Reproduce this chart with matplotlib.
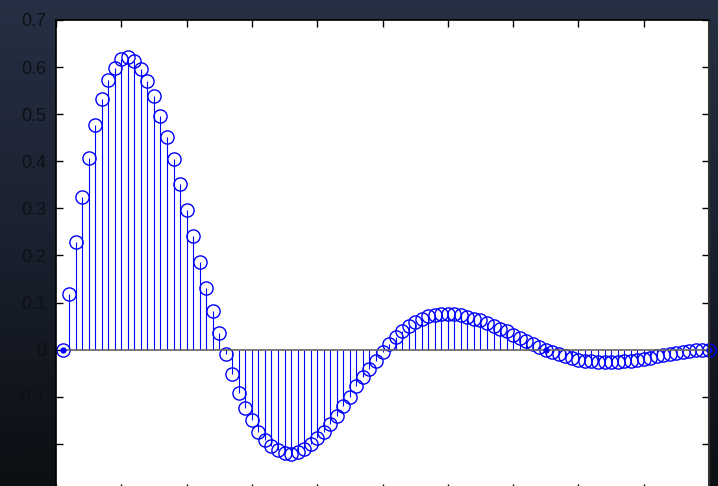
import matplotlib
matplotlib.use("Agg")
import matplotlib.pyplot as plt
import numpy as np

# impulse response samples, n = 1..100
n = np.arange(1, 101)
h = [0.000, 0.118, 0.229, 0.325, 0.406, 0.477, 0.532, 0.573, 0.599, 0.618,
     0.622, 0.614, 0.597, 0.570, 0.539, 0.497, 0.451, 0.404, 0.351, 0.296,
     0.241, 0.187, 0.132, 0.083, 0.035, -0.010, -0.052, -0.091, -0.124, -0.149,
     -0.174, -0.192, -0.204, -0.213, -0.220, -0.221, -0.218, -0.211, -0.200, -0.188,
     -0.175, -0.158, -0.140, -0.120, -0.100, -0.078, -0.058, -0.042, -0.024, -0.005,
     0.012, 0.027, 0.040, 0.051, 0.059, 0.066, 0.071, 0.074, 0.076, 0.076,
     0.075, 0.073, 0.070, 0.066, 0.062, 0.057, 0.051, 0.045, 0.039, 0.032,
     0.025, 0.019, 0.012, 0.006, 0.000, -0.005, -0.010, -0.014, -0.018, -0.021,
     -0.023, -0.025, -0.026, -0.026, -0.026, -0.026, -0.025, -0.023, -0.021, -0.019,
     -0.017, -0.014, -0.012, -0.009, -0.007, -0.004, -0.002, -0.001, 0.000, 0.000]
h = np.asarray(h)

# samples marked with a dot
dot_idx = [1, 75, 100]

yticks = [-0.3, -0.2, -0.1, 0, 0.1, 0.2, 0.3, 0.4, 0.5, 0.6, 0.7]
ylabels = ["-0.3", "-0.2", "-0.1", "0", "0.1", "0.2", "0.3", "0.4", "0.5", "0.6", "0.7"]

fig = plt.figure(figsize=(7.18, 4.86), dpi=100)

# dark gradient behind everything
bg = fig.add_axes([0, 0, 1, 1], zorder=-10)
top = np.array([38, 48, 68]) / 255.0
mid = np.array([27, 34, 49]) / 255.0
bot = np.array([12, 15, 19]) / 255.0
t = np.linspace(0, 1, 256)[:, None]
grad = np.where(t < 0.45, top + (mid - top) * (t / 0.45),
                mid + (bot - mid) * ((t - 0.45) / 0.55))
bg.imshow(grad[:, None, :].repeat(2, axis=1), aspect="auto", extent=[0, 1, 0, 1])
bg.axis("off")

ax = fig.add_axes([56 / 718, -5 / 486, 653 / 718, 471 / 486])
ax.set_facecolor("white")

ml, sl, bl = ax.stem(n, h, linefmt="b-", markerfmt="o", basefmt="k-")
plt.setp(sl, color="#0000ff", linewidth=0.8)
plt.setp(ml, markerfacecolor="none", markeredgecolor="#0000ff",
         markersize=9.5, markeredgewidth=1.0, clip_on=False)
plt.setp(bl, color="#666666", linewidth=1.2)

ax.plot([n[i - 1] for i in dot_idx], [h[i - 1] for i in dot_idx], "o",
        color="#0000ff", markersize=3.5, clip_on=False)

ax.set_xlim(0, 100)
ax.set_ylim(-0.3, 0.7)
ax.set_xticks(np.arange(0, 101, 10))
ax.set_xticklabels([])
ax.set_yticks(yticks)
ax.set_yticklabels(ylabels, fontsize=13, family="Liberation Sans", color="#0d1014")
ax.tick_params(direction="in", length=5, width=1, top=True, right=True,
               pad=7, color="black")
for s in ["left", "top", "bottom"]:
    ax.spines[s].set_color("black")
    ax.spines[s].set_linewidth(1.2)
ax.spines["right"].set_color("#333333")
ax.spines["right"].set_linewidth(1.5)

fig.savefig("out.png", dpi=100)
